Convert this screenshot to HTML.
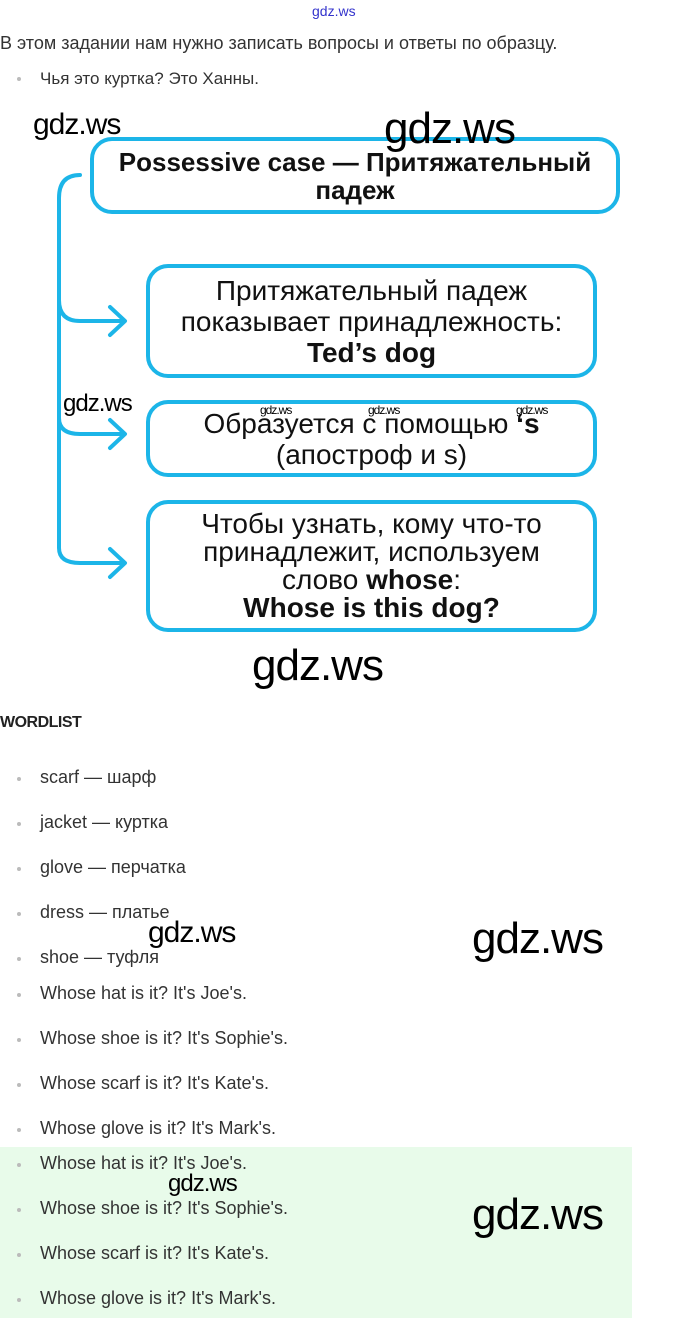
<!DOCTYPE html>
<html><head><meta charset="utf-8"><style>
body{margin:0;width:680px;height:1318px;position:relative;background:#fff;font-family:"Liberation Sans","DejaVu Sans",sans-serif;overflow:hidden}
.a{position:absolute;white-space:nowrap}
.t{color:#333;font-size:18px;line-height:20px}
.b{position:absolute;left:17px;width:4px;height:4px;background:#bbb;border-radius:50%}
.wm{position:absolute;font-family:"Liberation Sans",sans-serif;color:#000;white-space:nowrap;letter-spacing:-1px}
.box{position:absolute;border:4px solid #1cb5e8;border-radius:22px;box-sizing:border-box;display:flex;align-items:center;justify-content:center;text-align:center;color:#111;font-size:28px;line-height:31px}
.box>div{white-space:nowrap}
</style></head><body>
<div class="a" style="left:312px;top:3px;font-size:14px;color:#3333cc">gdz.ws</div>
<div class="a t" style="left:0;top:33px">В этом задании нам нужно записать вопросы и ответы по образцу.</div>
<div class="b" style="top:77px"></div>
<div class="a t" style="left:40px;top:69px;font-size:17px">Чья это куртка? Это Ханны.</div>

<div class="box" style="left:90px;top:137px;width:530px;height:77px;font-weight:bold;font-size:26px;line-height:28px"><div>Possessive case — Притяжательный<br>падеж</div></div>
<div class="box" style="left:146px;top:264px;width:451px;height:114px"><div>Притяжательный падеж<br>показывает принадлежность:<br><b>Ted’s dog</b></div></div>
<div class="box" style="left:146px;top:400px;width:451px;height:77px"><div>Образуется с помощью <b>‘s</b><br>(апостроф и s)</div></div>
<div class="box" style="left:146px;top:500px;width:451px;height:132px;line-height:28px"><div>Чтобы узнать, кому что-то<br>принадлежит, используем<br>слово <b>whose</b>:<br><b>Whose is this dog?</b></div></div>
<svg class="a" style="left:0;top:0" width="680" height="700">
<g fill="none" stroke="#1cb5e8" stroke-width="4" stroke-linecap="round" stroke-linejoin="round">
<path d="M80 175 Q59 175 59 198 L59 548 Q59 563 80 563 L124 563"/>
<path d="M59 300 Q59 321 80 321 L124 321"/>
<path d="M59 418 Q59 434 80 434 L124 434"/>
<path d="M110 307 L125 321 L110 335"/>
<path d="M110 420 L125 434 L110 448"/>
<path d="M110 549 L125 563 L110 577"/>
</g></svg>

<div class="wm" style="left:33px;top:108px;font-size:30px">gdz.ws</div>
<div class="wm" style="left:384px;top:104px;font-size:44px">gdz.ws</div>
<div class="wm" style="left:63px;top:390px;font-size:24px">gdz.ws</div>
<div class="wm" style="left:260px;top:403px;font-size:12px">gdz.ws</div>
<div class="wm" style="left:368px;top:403px;font-size:12px">gdz.ws</div>
<div class="wm" style="left:516px;top:403px;font-size:12px">gdz.ws</div>
<div class="wm" style="left:252px;top:641px;font-size:44px">gdz.ws</div>

<div class="a" style="left:0;top:714px;font-size:16px;font-weight:bold;color:#222;letter-spacing:-0.5px">WORDLIST</div>
<div style="position:absolute;left:0;top:1147px;width:632px;height:171px;background:#e8fbea"></div>

<div class="b" style="top:777px"></div><div class="a t" style="left:40px;top:767px">scarf — шарф</div>
<div class="b" style="top:822px"></div><div class="a t" style="left:40px;top:812px">jacket — куртка</div>
<div class="b" style="top:867px"></div><div class="a t" style="left:40px;top:857px">glove — перчатка</div>
<div class="b" style="top:912px"></div><div class="a t" style="left:40px;top:902px">dress — платье</div>
<div class="b" style="top:957px"></div><div class="a t" style="left:40px;top:947px">shoe — туфля</div>
<div class="b" style="top:993px"></div><div class="a t" style="left:40px;top:983px">Whose hat is it? It's Joe's.</div>
<div class="b" style="top:1038px"></div><div class="a t" style="left:40px;top:1028px">Whose shoe is it? It's Sophie's.</div>
<div class="b" style="top:1083px"></div><div class="a t" style="left:40px;top:1073px">Whose scarf is it? It's Kate's.</div>
<div class="b" style="top:1128px"></div><div class="a t" style="left:40px;top:1118px">Whose glove is it? It's Mark's.</div>
<div class="b" style="top:1163px"></div><div class="a t" style="left:40px;top:1153px">Whose hat is it? It's Joe's.</div>
<div class="b" style="top:1208px"></div><div class="a t" style="left:40px;top:1198px">Whose shoe is it? It's Sophie's.</div>
<div class="b" style="top:1253px"></div><div class="a t" style="left:40px;top:1243px">Whose scarf is it? It's Kate's.</div>
<div class="b" style="top:1298px"></div><div class="a t" style="left:40px;top:1288px">Whose glove is it? It's Mark's.</div>

<div class="wm" style="left:148px;top:916px;font-size:30px">gdz.ws</div>
<div class="wm" style="left:472px;top:914px;font-size:44px">gdz.ws</div>
<div class="wm" style="left:168px;top:1170px;font-size:24px">gdz.ws</div>
<div class="wm" style="left:472px;top:1190px;font-size:44px">gdz.ws</div>
</body></html>
